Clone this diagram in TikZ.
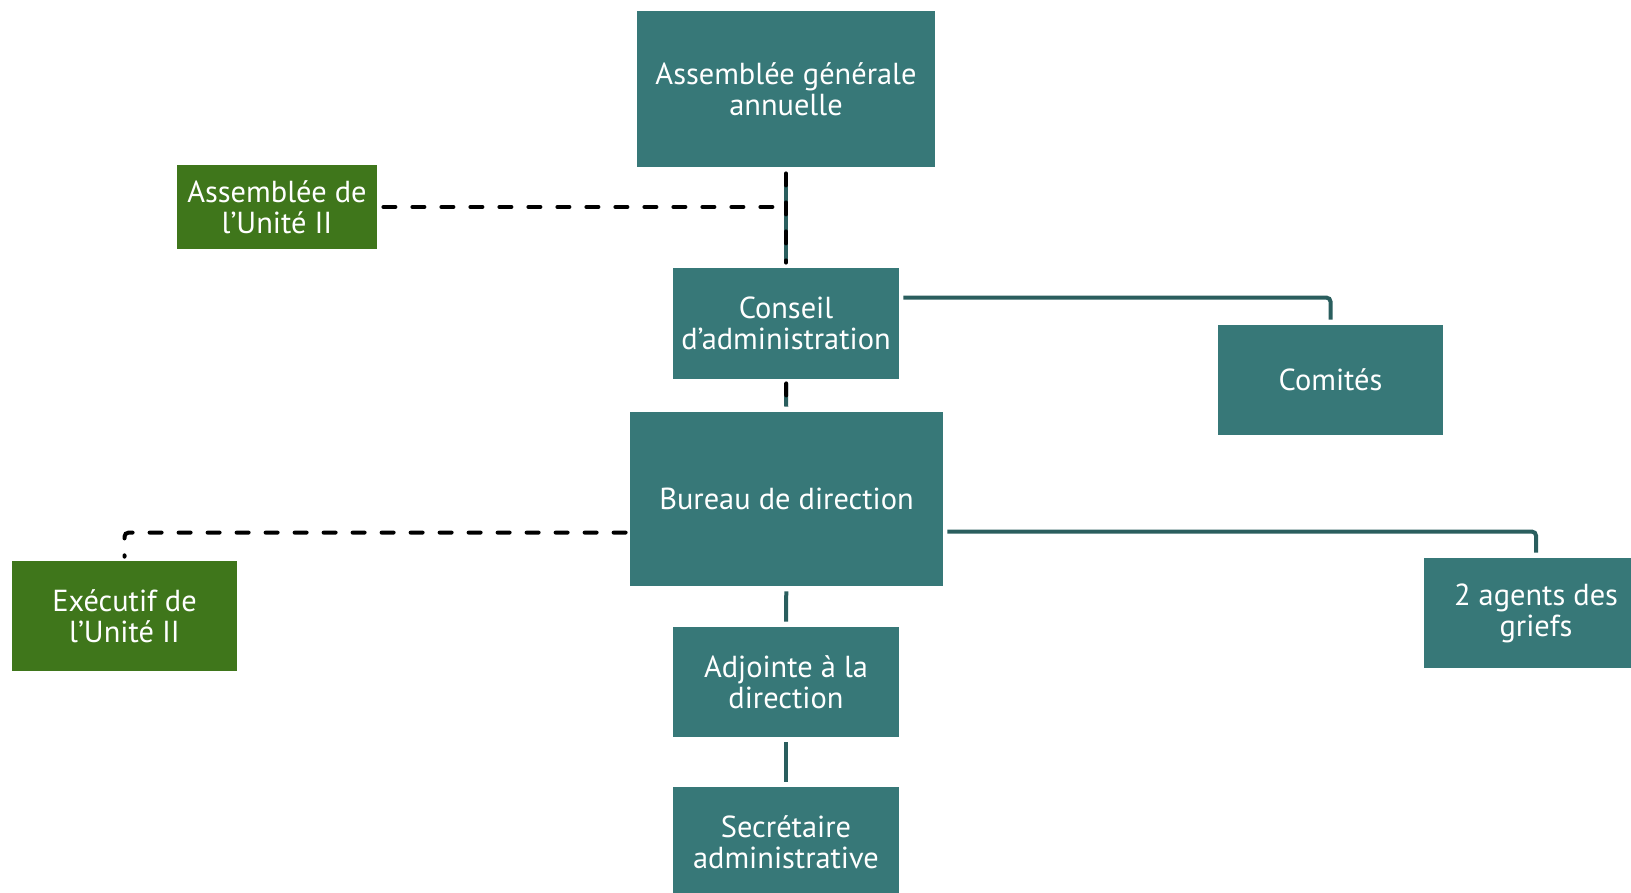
\documentclass[tikz,border=0pt]{standalone}
\usepackage{fontspec}
\setmainfont{PT Sans}
\usetikzlibrary{positioning}

\definecolor{tealbox}{RGB}{55,120,120}
\definecolor{greenbox}{RGB}{63,118,27}
\definecolor{tealline}{RGB}{42,94,94}

\begin{document}
\begin{tikzpicture}[x=0.5pt,y=-0.5pt,
    box/.style={fill=tealbox, text=white, align=center, inner sep=0pt,
                font=\fontsize{15.2}{15.5}\selectfont},
    unitbox/.style={box, fill=greenbox},
    link/.style={draw=tealline, line width=2pt},
    dashlink/.style={draw=black, line width=2pt, line cap=round, dash pattern=on 6pt off 8.5pt}]
    \useasboundingbox (0,0) rectangle (1631,893);

    % boxes
    \node[box, minimum width=149pt, minimum height=78pt] (aga) at (786,89) {Assemblée générale\\annuelle};
    \node[unitbox, minimum width=100pt, minimum height=42pt] (unite) at (277,207) {Assemblée de\\l’Unité II};
    \node[box, minimum width=113pt, minimum height=55.5pt] (conseil) at (786,323.5) {Conseil\\d’administration};
    \node[box, minimum width=112.5pt, minimum height=55pt] (comites) at (1330.5,380) {Comités};
    \node[box, minimum width=156.5pt, minimum height=87pt] (bureau) at (786.5,499) {Bureau de direction};
    \node[unitbox, minimum width=112.5pt, minimum height=55pt] (executif) at (124.5,616) {Exécutif de\\l’Unité II};
    \node[box, minimum width=112.5pt, minimum height=55pt] (agents) at (1536,613) {2 agents des\\griefs};
    \node[box, minimum width=113pt, minimum height=55pt] (adjointe) at (786,682) {Adjointe à la\\direction};
    \node[box, minimum width=113pt, minimum height=55pt] (secretaire) at (786,842) {Secrétaire\\administrative};

    \coordinate (J) at (aga.south |- unite.east);

    % solid links
    \draw[link, shorten <=3pt, shorten >=2.5pt] (aga) -- (conseil);
    \draw[link, shorten <=2pt, shorten >=2.5pt] (conseil) -- (bureau);
    \draw[link, shorten <=2.5pt, shorten >=2.5pt] (bureau) -- (adjointe);
    \draw[link, shorten <=2.5pt, shorten >=2.5pt] (adjointe) -- (secretaire);
    \draw[link, rounded corners=2pt, shorten <=2pt, shorten >=2.5pt]
        ([yshift=-15pt]conseil.north east) -| (comites.north);
    \draw[link, rounded corners=2pt, shorten <=2pt, shorten >=2.5pt]
        ([yshift=-60pt]bureau.north east) -| (agents.north);

    % dashed links
    \draw[dashlink, shorten <=3pt, shorten >=2.5pt] (aga) -- (conseil);
    \draw[dashlink, shorten <=2pt, shorten >=3pt] (conseil) -- (bureau);
    \draw[dashlink, shorten <=3pt] (unite) -- (J);
    \draw[dashlink, rounded corners=2pt, shorten <=2pt, shorten >=2pt]
        ([yshift=-60.5pt]bureau.north west) -| (executif.north);
\end{tikzpicture}
\end{document}
